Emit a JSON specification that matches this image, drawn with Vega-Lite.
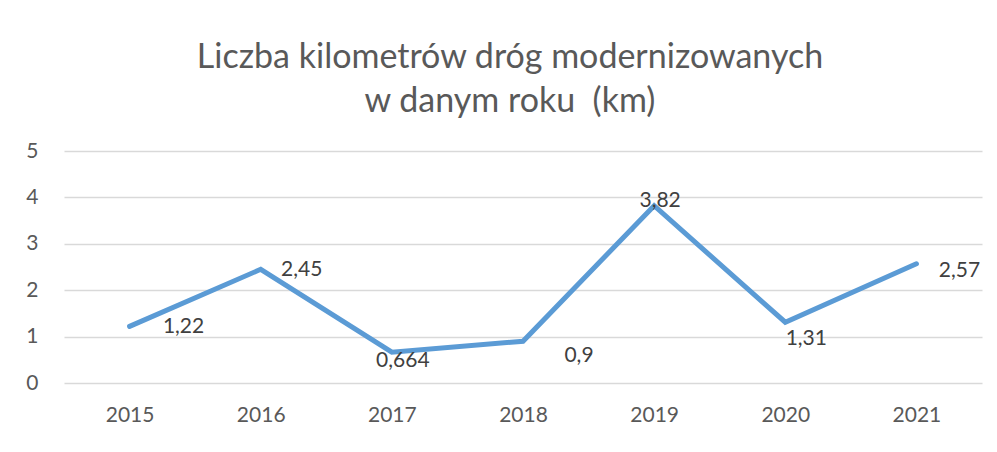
{
  "$schema": "https://vega.github.io/schema/vega-lite/v6.json",
  "width": 918,
  "height": 232,
  "autosize": "none",
  "padding": {"left": 64, "top": 151, "right": 15, "bottom": 69},
  "background": "white",
  "title": {
    "text": ["Liczba kilometrów dróg modernizowanych", "w danym roku \u00a0(km)"],
    "font": "Lato",
    "fontSize": 34,
    "fontWeight": "normal",
    "color": "#595959",
    "lineHeight": 44,
    "anchor": "middle",
    "offset": 21,
    "dx": -13
  },
  "config": {
    "view": {"stroke": null},
    "axis": {
      "labelFont": "Lato",
      "labelFontSize": 21,
      "labelColor": "#595959",
      "domain": false,
      "ticks": false,
      "title": null
    }
  },
  "data": {
    "values": [
      {"year": "2015", "value": 1.22, "label": "1,22"},
      {"year": "2016", "value": 2.45, "label": "2,45"},
      {"year": "2017", "value": 0.664, "label": "0,664"},
      {"year": "2018", "value": 0.9, "label": "0,9"},
      {"year": "2019", "value": 3.82, "label": "3,82"},
      {"year": "2020", "value": 1.31, "label": "1,31"},
      {"year": "2021", "value": 2.57, "label": "2,57"}
    ]
  },
  "encoding": {
    "x": {
      "field": "year",
      "type": "ordinal",
      "scale": {"type": "point", "padding": 0.5},
      "axis": {"labelAngle": 0, "labelPadding": 21, "grid": false}
    },
    "y": {
      "field": "value",
      "type": "quantitative",
      "scale": {"domain": [0, 5]},
      "axis": {"values": [0, 1, 2, 3, 4, 5], "grid": true, "gridColor": "#d9d9d9", "gridWidth": 1.3, "labelPadding": 26}
    }
  },
  "layer": [
    {"mark": {"type": "line", "color": "#5b9bd5", "strokeWidth": 5, "strokeCap": "round", "strokeJoin": "miter"}},
    {"transform": [{"filter": "datum.year == '2015'"}], "mark": {"type": "text", "font": "Lato", "fontSize": 21, "color": "#404040", "dx": 54, "dy": 1}, "encoding": {"text": {"field": "label"}}},
    {"transform": [{"filter": "datum.year == '2016'"}], "mark": {"type": "text", "font": "Lato", "fontSize": 21, "color": "#404040", "dx": 41, "dy": 1}, "encoding": {"text": {"field": "label"}}},
    {"transform": [{"filter": "datum.year == '2017'"}], "mark": {"type": "text", "font": "Lato", "fontSize": 21, "color": "#404040", "dx": 11, "dy": 9}, "encoding": {"text": {"field": "label"}}},
    {"transform": [{"filter": "datum.year == '2018'"}], "mark": {"type": "text", "font": "Lato", "fontSize": 21, "color": "#404040", "dx": 56, "dy": 15}, "encoding": {"text": {"field": "label"}}},
    {"transform": [{"filter": "datum.year == '2019'"}], "mark": {"type": "text", "font": "Lato", "fontSize": 21, "color": "#404040", "dx": 6, "dy": -5}, "encoding": {"text": {"field": "label"}}},
    {"transform": [{"filter": "datum.year == '2020'"}], "mark": {"type": "text", "font": "Lato", "fontSize": 21, "color": "#404040", "dx": 21, "dy": 17}, "encoding": {"text": {"field": "label"}}},
    {"transform": [{"filter": "datum.year == '2021'"}], "mark": {"type": "text", "font": "Lato", "fontSize": 21, "color": "#404040", "dx": 43, "dy": 7}, "encoding": {"text": {"field": "label"}}}
  ]
}
